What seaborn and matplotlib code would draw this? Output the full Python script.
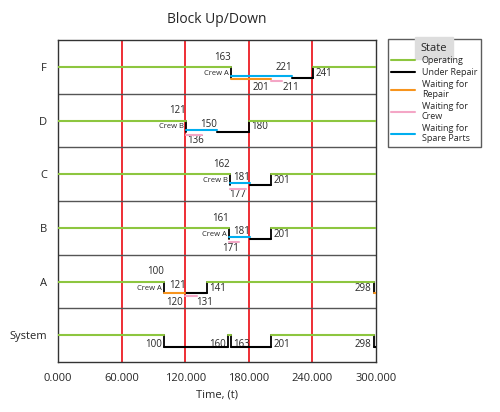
import matplotlib
matplotlib.use("Agg")
import matplotlib.pyplot as plt
import seaborn as sns
import pandas as pd
from matplotlib.lines import Line2D

sns.set_style("white")
plt.rcParams['font.family'] = ['Open Sans', 'DejaVu Sans']

rows = ["System", "A", "B", "C", "D", "F"]
up_periods = {
    "F": [(0, 163), (241, 300)],
    "D": [(0, 121), (180, 300)],
    "C": [(0, 162), (201, 300)],
    "B": [(0, 161), (201, 300)],
    "A": [(0, 100), (141, 298)],
    "System": [(0, 100), (160, 163), (201, 298)],
}
repair = {
    "F": [(221, 241)], "D": [(150, 180)], "C": [(181, 201)], "B": [(181, 201)],
    "A": [(121, 141)], "System": [(100, 160), (163, 201), (298, 300)],
}
wait_spare = {"F": [(163, 221)], "D": [(121, 150)], "C": [(162, 181)], "B": [(161, 181)]}
wait_repair = {"F": [(163, 201)], "A": [(100, 120), (298, 300)]}
wait_crew = {"F": [(201, 211)], "D": [(121, 136)], "C": [(162, 177)], "B": [(161, 171)], "A": [(120, 131)]}
transitions = {"F": [163, 241], "D": [121, 180], "C": [162, 201], "B": [161, 201], "A": [100, 141, 298],
               "System": [100, 160, 163, 201, 298]}
colors = {"Operating": "#8dc63f", "Under Repair": "black", "Waiting for\nRepair": "#f7941d",
          "Waiting for\nCrew": "#f4a6c6", "Waiting for\nSpare Parts": "#00aeef"}

UP, DOWN = 0.5, 0.29
recs = []
uid = 0
def add(row, state, s, e, off):
    global uid
    y = rows.index(row) + off
    recs.append(dict(x=s, y=y, state=state, u=uid)); recs.append(dict(x=e, y=y, state=state, u=uid)); uid += 1
for r, segs in up_periods.items():
    for s, e in segs: add(r, "Operating", s, e, UP)
for r, segs in repair.items():
    for s, e in segs: add(r, "Under Repair", s, e, DOWN)
for r, segs in wait_spare.items():
    for s, e in segs: add(r, "Waiting for\nSpare Parts", s, e, DOWN + 0.04)
for r, segs in wait_repair.items():
    for s, e in segs: add(r, "Waiting for\nRepair", s, e, DOWN if r == "A" else DOWN - 0.02)
for r, segs in wait_crew.items():
    for s, e in segs: add(r, "Waiting for\nCrew", s, e, DOWN - 0.06 if r != "A" else DOWN - 0.05)
df = pd.DataFrame(recs)

fig = plt.figure(figsize=(5, 4.12), dpi=100)
ax = fig.add_axes([0.116, 0.121, 0.636, 0.782])
for xv in [60, 120, 180, 240]:
    ax.axvline(xv, color="#ed1c24", lw=1.3, zorder=1)
for i in range(1, 6):
    ax.axhline(i, color="#555555", lw=1, zorder=1)
vrec = []
for r, ts in transitions.items():
    for t in ts:
        i = rows.index(r)
        vrec.append(dict(x=t, y=i + DOWN, u=uid)); vrec.append(dict(x=t, y=i + UP, u=uid)); uid += 1
vdf = pd.DataFrame(vrec)
sns.lineplot(data=vdf, x="x", y="y", units="u", estimator=None, color="black", lw=1.3, ax=ax, sort=False, zorder=3)
sns.lineplot(data=df, x="x", y="y", hue="state", units="u", estimator=None, palette=colors, lw=1.5, ax=ax,
             sort=False, legend=False, zorder=4)

fs = 7
def lab(r, x, dy, txt, ha="left", size=fs):
    ax.text(x, rows.index(r) + dy, txt, fontsize=size, ha=ha, va="center")
lab("F", 163, 0.68, "163", "right"); lab("F", 161, 0.38, "Crew A", "right", 5.5)
lab("F", 221, 0.49, "221", "right"); lab("F", 243, 0.38, "241")
lab("F", 199, 0.12, "201", "right"); lab("F", 212, 0.12, "211", "left")
lab("D", 121, 0.68, "121", "right"); lab("D", 119, 0.38, "Crew B", "right", 5.5)
lab("D", 150, 0.43, "150", "right"); lab("D", 182, 0.38, "180"); lab("D", 122, 0.12, "136")
lab("C", 162, 0.68, "162", "right"); lab("C", 160, 0.38, "Crew B", "right", 5.5)
lab("C", 181, 0.43, "181", "right"); lab("C", 203, 0.38, "201"); lab("C", 177, 0.12, "177", "right")
lab("B", 161, 0.68, "161", "right"); lab("B", 159, 0.38, "Crew A", "right", 5.5)
lab("B", 181, 0.43, "181", "right"); lab("B", 203, 0.38, "201"); lab("B", 171, 0.12, "171", "right")
lab("A", 100, 0.68, "100", "right"); lab("A", 98, 0.38, "Crew A", "right", 5.5)
lab("A", 121, 0.43, "121", "right"); lab("A", 143, 0.38, "141"); lab("A", 118, 0.12, "120", "right")
lab("A", 130, 0.12, "131", "left"); lab("A", 296, 0.38, "298", "right")
lab("System", 98, 0.33, "100", "right"); lab("System", 158, 0.33, "160", "right")
lab("System", 165, 0.33, "163"); lab("System", 203, 0.33, "201"); lab("System", 296, 0.33, "298", "right")

ax.set_xlim(0, 300); ax.set_ylim(0, 6)
ax.set_xticks([0, 60, 120, 180, 240, 300])
ax.set_xticklabels(["0.000", "60.000", "120.000", "180.000", "240.000", "300.000"], fontsize=8)
ax.set_yticks([i + UP for i in range(6)]); ax.set_yticklabels(rows, fontsize=8)
ax.tick_params(length=0, pad=8)
ax.set_xlabel("Time, (t)", fontsize=8); ax.set_ylabel("")
ax.set_title("Block Up/Down", fontsize=10, pad=12)
for s in ax.spines.values():
    s.set_color("#333333"); s.set_linewidth(1)

handles = [Line2D([], [], color=c, lw=1.5) for c in colors.values()]
leg = fig.legend(handles, list(colors.keys()), title="State", loc="upper left", bbox_to_anchor=(0.775, 0.905),
                 fontsize=6.5, title_fontsize=8, frameon=True, fancybox=False, edgecolor="#333333",
                 handlelength=2.6, labelspacing=0.3, borderaxespad=0)
leg.get_title().set_backgroundcolor("#dddddd")
fig.savefig("out.png", dpi=100)
